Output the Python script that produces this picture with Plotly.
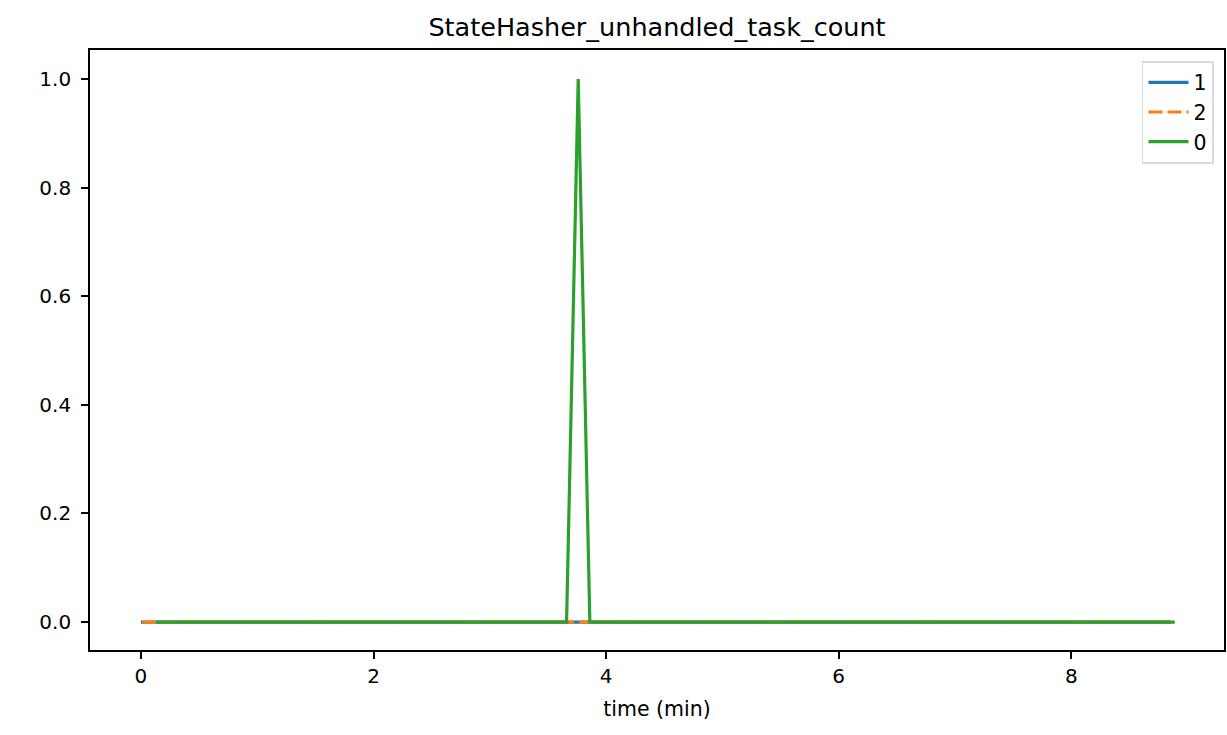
import plotly.graph_objects as go

# series (time in minutes, value = unhandled task count)
t_1 = [0.0, 8.85]
v_1 = [0, 0]

t_2 = [0.01, 8.86]
v_2 = [0, 0]

t_0 = [0.13, 3.66, 3.76, 3.86, 8.89]
v_0 = [0, 0, 1, 0, 0]

y_ticks = [0.0, 0.2, 0.4, 0.6, 0.8, 1.0]
x_ticks = [0, 2, 4, 6, 8]

fig = go.Figure()

fig.add_trace(go.Scatter(x=t_1, y=v_1, mode="lines", name="1",
                         line=dict(color="#1f77b4", width=3.2)))
fig.add_trace(go.Scatter(x=t_2, y=v_2, mode="lines", name="2",
                         line=dict(color="#ff7f0e", width=3.2, dash="14px,5px")))
fig.add_trace(go.Scatter(x=t_0, y=v_0, mode="lines", name="0",
                         line=dict(color="#2ca02c", width=3.2)))

axis_style = dict(
    showline=True, mirror=True, linecolor="black", linewidth=1.7,
    ticks="outside", ticklen=7, tickwidth=1.7, tickcolor="black",
    showgrid=False, zeroline=False,
    tickfont=dict(size=20, color="black"),
)

fig.update_layout(
    width=1227, height=735,
    margin=dict(l=90, r=1, t=50, b=85),
    paper_bgcolor="white", plot_bgcolor="white",
    font=dict(family="DejaVu Sans", color="black"),
    title=dict(text="StateHasher_unhandled_task_count", x=0.5, xanchor="center",
               xref="paper",
               y=0.963, yanchor="middle", font=dict(size=25.5)),
    xaxis=dict(range=[-0.438, 9.313], tickvals=x_ticks,
               title=dict(text="time (min)", font=dict(size=20.5), standoff=15),
               **axis_style),
    yaxis=dict(range=[-0.0515, 1.0533], tickvals=y_ticks, tickformat=".1f",
               ticklabelstandoff=6,
               **axis_style),
    legend=dict(x=0.991, y=0.982, xanchor="right", yanchor="top",
                bgcolor="white", bordercolor="#dadada", borderwidth=1.7,
                font=dict(size=20.5), tracegroupgap=2, itemwidth=40),
    showlegend=True,
)

fig.write_html(
    "out.html",
    config={"displayModeBar": False},
    post_script="document.body.style.margin='0';document.body.style.overflow='hidden';",
)
